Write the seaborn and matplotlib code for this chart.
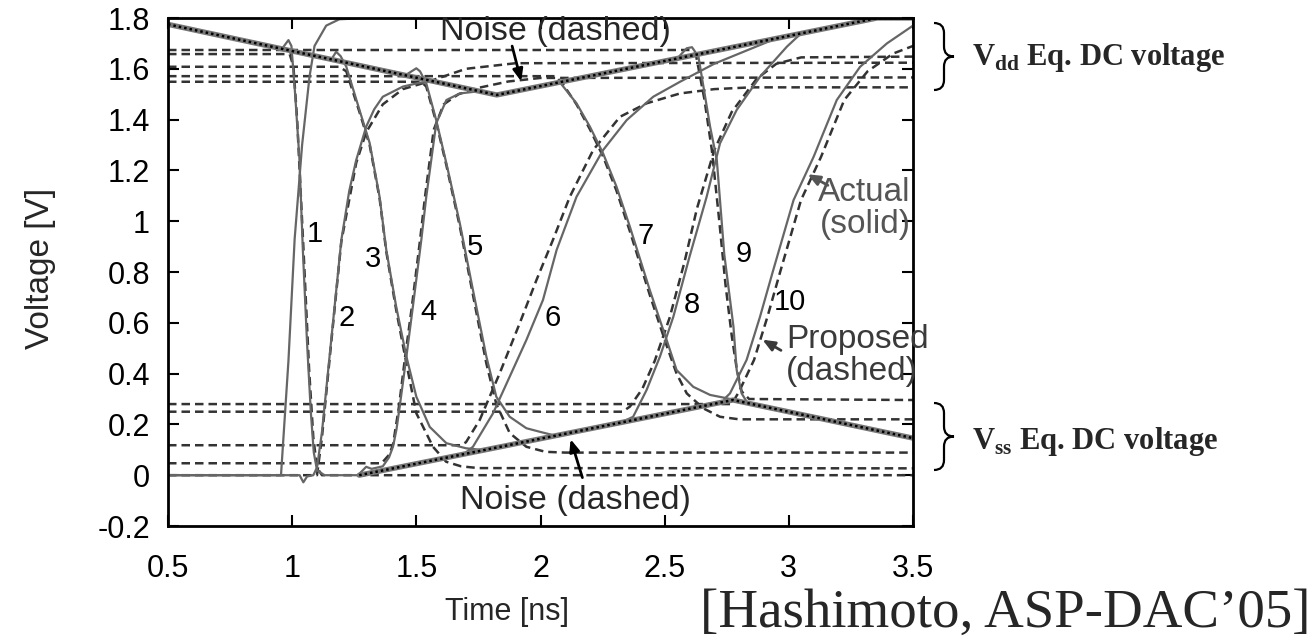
import matplotlib
matplotlib.use("Agg")
import matplotlib.pyplot as plt
import pandas as pd
import seaborn as sns
from matplotlib.path import Path
from matplotlib.patches import PathPatch

# ---------------- waveform data (time [ns], voltage [V]) ----------------
vdd_noise = [(0.5, 1.775), (1.824, 1.497), (3.356, 1.80), (3.5, 1.80)]
vss_noise = [(1.27, 0.0), (2.775, 0.296), (3.5, 0.146)]

stage_input = [(0.5, 0.0), (0.955, 0.0), (0.985, 0.45), (1.01, 0.93), (1.04, 1.30),
               (1.07, 1.57), (1.09, 1.69), (1.137, 1.77), (1.19, 1.795), (1.3, 1.80), (3.5, 1.80)]

out1_actual = [(0.5, 1.775), (0.96, 1.68), (0.985, 1.713), (0.997, 1.69), (1.012, 1.50),
               (1.029, 1.25), (1.043, 0.887), (1.06, 0.52), (1.075, 0.25), (1.087, 0.09),
               (1.10, 0.02), (1.13, 0.0), (1.28, 0.0)]
out1_proposed = [(0.5, 1.658), (0.99, 1.658), (1.005, 1.61), (1.02, 1.40), (1.045, 0.90),
                 (1.068, 0.42), (1.085, 0.15), (1.10, 0.03), (1.12, 0.0), (3.5, 0.0)]

out2_actual = [(0.5, 0.0), (1.03, 0.0), (1.045, -0.028), (1.06, -0.005), (1.085, 0.0),
               (1.10, 0.03), (1.12, 0.17), (1.157, 0.53), (1.198, 0.926), (1.23, 1.12),
               (1.258, 1.241), (1.298, 1.372), (1.33, 1.44), (1.365, 1.49), (1.446, 1.53),
               (1.513, 1.545), (1.56, 1.55)]
out2_proposed = [(0.5, 0.0), (1.10, 0.0), (1.12, 0.15), (1.157, 0.52), (1.198, 0.92),
                 (1.258, 1.23), (1.298, 1.35), (1.365, 1.46), (1.446, 1.52), (1.55, 1.55),
                 (1.70, 1.60), (1.90, 1.622), (3.5, 1.624)]

out3_actual = [(1.10, 1.645), (1.16, 1.64), (1.177, 1.667), (1.195, 1.65), (1.218, 1.608),
               (1.271, 1.438), (1.312, 1.308), (1.352, 1.096), (1.379, 0.887), (1.419, 0.663),
               (1.46, 0.467), (1.5, 0.309), (1.554, 0.19), (1.621, 0.126), (1.70, 0.106),
               (1.76, 0.10)]
out3_proposed = [(0.5, 1.608), (1.19, 1.608), (1.218, 1.59), (1.271, 1.43),
                 (1.312, 1.30), (1.352, 1.09), (1.379, 0.88), (1.419, 0.65), (1.46, 0.44),
                 (1.5, 0.244), (1.567, 0.112), (1.62, 0.053), (1.68, 0.035), (1.75, 0.028),
                 (3.5, 0.027)]

out4_actual = [(1.27, 0.005), (1.298, 0.033), (1.32, 0.025), (1.365, 0.035), (1.39, 0.07),
               (1.406, 0.112), (1.42, 0.18), (1.433, 0.27), (1.46, 0.467), (1.486, 0.663),
               (1.52, 0.926), (1.54, 1.096), (1.58, 1.385), (1.621, 1.477), (1.675, 1.503),
               (1.755, 1.512), (1.83, 1.50)]
out4_proposed = [(0.5, 0.047), (1.36, 0.047), (1.39, 0.08), (1.406, 0.12), (1.43, 0.27),
                 (1.455, 0.467), (1.482, 0.663), (1.515, 0.926), (1.535, 1.096), (1.57, 1.36),
                 (1.61, 1.46), (1.67, 1.50), (1.75, 1.525), (1.87, 1.55), (2.0, 1.564),
                 (3.5, 1.566)]

out5_actual = [(1.45, 1.571), (1.50, 1.602), (1.515, 1.59), (1.54, 1.543), (1.58, 1.398),
               (1.621, 1.228), (1.675, 0.992), (1.728, 0.729), (1.782, 0.467), (1.822, 0.309),
               (1.876, 0.23), (1.943, 0.185), (1.997, 0.171), (2.05, 0.158)]
out5_proposed = [(0.5, 1.549), (1.52, 1.549), (1.54, 1.53), (1.58, 1.39), (1.621, 1.22),
                 (1.675, 0.98), (1.728, 0.71), (1.782, 0.44), (1.822, 0.28), (1.876, 0.166),
                 (1.943, 0.112), (2.02, 0.092), (2.1, 0.089), (3.5, 0.089)]

out6_actual = [(1.70, 0.09), (1.728, 0.112), (1.809, 0.244), (1.876, 0.388), (1.943, 0.532),
               (2.01, 0.69), (2.065, 0.887), (2.145, 1.096), (2.252, 1.28), (2.347, 1.398),
               (2.454, 1.49), (2.562, 1.549), (2.70, 1.62), (2.85, 1.68), (2.95, 1.72)]
out6_proposed = [(0.5, 0.118), (1.68, 0.118), (1.70, 0.13), (1.755, 0.217), (1.836, 0.402),
                 (1.917, 0.60), (1.984, 0.769), (2.05, 0.926), (2.118, 1.096), (2.212, 1.28),
                 (2.32, 1.411), (2.427, 1.464), (2.562, 1.503), (2.70, 1.52), (2.85, 1.527),
                 (3.5, 1.527)]

out7_actual = [(2.03, 1.538), (2.078, 1.547), (2.145, 1.464), (2.199, 1.372), (2.252, 1.267),
               (2.306, 1.136), (2.36, 0.978), (2.44, 0.729), (2.508, 0.532), (2.548, 0.414),
               (2.615, 0.348), (2.683, 0.316), (2.75, 0.303), (2.78, 0.296)]
out7_proposed = [(0.5, 1.571), (2.06, 1.571), (2.09, 1.54), (2.145, 1.46), (2.20, 1.36),
                 (2.252, 1.255), (2.306, 1.12), (2.36, 0.96), (2.44, 0.71), (2.508, 0.51),
                 (2.548, 0.40), (2.589, 0.322), (2.656, 0.263), (2.723, 0.23), (2.80, 0.22),
                 (3.5, 0.22)]

out8_actual = [(2.33, 0.21), (2.373, 0.23), (2.427, 0.335), (2.481, 0.467), (2.535, 0.624),
               (2.60, 0.86), (2.669, 1.096), (2.723, 1.307), (2.79, 1.438), (2.884, 1.569),
               (2.992, 1.687), (3.05, 1.74)]
out8_proposed = [(0.5, 0.25), (2.33, 0.25), (2.36, 0.27), (2.41, 0.34), (2.46, 0.45),
                 (2.52, 0.62), (2.58, 0.84), (2.63, 1.05), (2.70, 1.28), (2.77, 1.43),
                 (2.87, 1.56), (2.95, 1.62), (3.05, 1.645), (3.5, 1.648)]

out9_actual = [(2.55, 1.64), (2.589, 1.681), (2.61, 1.685), (2.636, 1.648), (2.683, 1.372),
               (2.71, 1.241), (2.74, 0.87), (2.777, 0.585), (2.79, 0.414), (2.81, 0.322),
               (2.83, 0.29)]
out9_proposed = [(0.5, 1.674), (2.60, 1.674), (2.625, 1.66), (2.66, 1.48), (2.69, 1.28),
                 (2.72, 1.0), (2.745, 0.75), (2.77, 0.55), (2.79, 0.42), (2.81, 0.33),
                 (2.84, 0.30), (3.5, 0.296)]

out10_actual = [(2.74, 0.30), (2.763, 0.322), (2.83, 0.454), (2.884, 0.624), (2.935, 0.80),
                (3.019, 1.083), (3.1, 1.254), (3.193, 1.477), (3.287, 1.608), (3.395, 1.70),
                (3.5, 1.77)]
out10_proposed = [(0.5, 0.28), (2.77, 0.28), (2.80, 0.33), (2.86, 0.454), (2.914, 0.624),
                  (2.965, 0.80), (3.049, 1.083), (3.13, 1.254), (3.223, 1.477), (3.317, 1.59),
                  (3.42, 1.66), (3.5, 1.69)]

stage_labels = ["1", "2", "3", "4", "5", "6", "7", "8", "9", "10"]
label_pos = [(1.09, 0.95), (1.22, 0.62), (1.325, 0.85), (1.547, 0.644), (1.735, 0.90),
             (2.05, 0.62), (2.425, 0.94), (2.61, 0.67), (2.82, 0.87), (3.005, 0.68)]

# ---------------- styling ----------------
sns.set_theme(style="ticks")
plt.rcParams["font.family"] = ["Liberation Sans", "DejaVu Sans"]
plt.rcParams["mathtext.fontset"] = "custom"
plt.rcParams["mathtext.rm"] = "Liberation Serif:bold"
plt.rcParams["mathtext.bf"] = "Liberation Serif:bold"

SOLID = "#666666"
DASH = "#333333"
DASH_STYLE = (0, (3.4, 2.0))

W, H = 1314, 644
fig = plt.figure(figsize=(W / 100, H / 100), dpi=100)
ax = fig.add_axes([168 / W, 1 - 526 / H, (913 - 168) / W, (526 - 18) / H])


def trace(points, **kw):
    df = pd.DataFrame(points, columns=["t", "v"])
    sns.lineplot(data=df, x="t", y="v", sort=False, estimator=None, ax=ax, **kw)


actual = [stage_input, out1_actual, out2_actual, out3_actual, out4_actual, out5_actual,
          out6_actual, out7_actual, out8_actual, out9_actual, out10_actual]
proposed = [out1_proposed, out2_proposed, out3_proposed, out4_proposed, out5_proposed,
            out6_proposed, out7_proposed, out8_proposed, out9_proposed, out10_proposed]

for pts in proposed:
    trace(pts, color=DASH, lw=1.8, linestyle=DASH_STYLE)
for pts in actual:
    trace(pts, color=SOLID, lw=1.6)

# supply noise: actual (thick grey) with the model overlaid as black dots
for pts in (vdd_noise, vss_noise):
    trace(pts, color="#777777", lw=3.8)
    trace(pts, color="black", lw=1.8, linestyle=(0, (1.0, 1.2)))

for lab, (tx, ty) in zip(stage_labels, label_pos):
    ax.text(tx, ty, lab, fontsize=21, ha="center", va="center", color="black")

ax.set_xlim(0.5, 3.5)
ax.set_ylim(-0.2, 1.8)
ax.set_xticks([0.5, 1, 1.5, 2, 2.5, 3, 3.5])
ax.set_xticklabels(["0.5", "1", "1.5", "2", "2.5", "3", "3.5"])
ax.set_yticks([-0.2, 0, 0.2, 0.4, 0.6, 0.8, 1, 1.2, 1.4, 1.6, 1.8])
ax.set_yticklabels(["-0.2", "0", "0.2", "0.4", "0.6", "0.8", "1", "1.2", "1.4", "1.6", "1.8"])
ax.tick_params(direction="in", top=True, right=True, length=8, width=1.5,
               labelsize=22, colors="black")
ax.tick_params(axis="x", pad=20)
ax.tick_params(axis="y", pad=13)
for sp in ax.spines.values():
    sp.set_linewidth(2.0)
    sp.set_color("black")
    sp.set_visible(True)
ax.set_xlabel("Time [ns]", fontsize=22)
ax.set_ylabel("Voltage [V]", fontsize=24)
ax.xaxis.set_label_coords((507 - 168) / 745, -(597 - 526) / 508)
ax.yaxis.set_label_coords(-(168 - 56) / 745, (526 - 268) / 508)

# annotations
ARROW = "-|>,head_length=0.6,head_width=0.25"
ax.text(2.06, 1.745, "Noise (dashed)", fontsize=24.5, ha="center", va="center")
ax.annotate("", xy=(1.925, 1.54), xytext=(1.883, 1.70),
            arrowprops=dict(arrowstyle=ARROW, color="black", lw=2))
ax.text(2.14, -0.098, "Noise (dashed)", fontsize=24.5, ha="center", va="center")
ax.annotate("", xy=(2.118, 0.152), xytext=(2.172, -0.02),
            arrowprops=dict(arrowstyle=ARROW, color="black", lw=2))
ax.text(3.49, 1.05, "Actual\n(solid)", fontsize=24, ha="right", va="center",
        color="#555555", linespacing=1.05)
ax.annotate("", xy=(3.066, 1.19), xytext=(3.167, 1.136),
            arrowprops=dict(arrowstyle=ARROW, color="#555555", lw=2))
ax.text(2.99, 0.47, "Proposed\n(dashed)", fontsize=24, ha="left", va="center",
        color="#3a3a3a", linespacing=1.05, clip_on=False)
ax.annotate("", xy=(2.884, 0.539), xytext=(2.978, 0.486),
            arrowprops=dict(arrowstyle=ARROW, color="#3a3a3a", lw=2))


def brace(x0, x1, ytop, ybot):
    """Right-pointing curly brace in figure pixel coordinates."""
    xm = (x0 + x1) / 2
    ym = (ytop + ybot) / 2
    r = (x1 - x0) / 2
    pts = [(x0, ytop), (xm, ytop), (xm, ytop + r), (xm, ym - r), (xm, ym), (x1, ym),
           (xm, ym), (xm, ym + r), (xm, ybot - r), (xm, ybot), (x0, ybot)]
    codes = [Path.MOVETO, Path.CURVE3, Path.CURVE3, Path.LINETO, Path.CURVE3, Path.CURVE3,
             Path.CURVE3, Path.CURVE3, Path.LINETO, Path.CURVE3, Path.CURVE3]
    verts = [(x / W, 1 - y / H) for x, y in pts]
    fig.add_artist(PathPatch(Path(verts, codes), fill=False, lw=1.6, color="black",
                             transform=fig.transFigure))


brace(934, 954, 23, 90)
brace(934, 954, 403, 470)
fig.text(972 / W, 1 - 58 / H, r"$\mathrm{V}_{\mathrm{dd}}$ Eq. DC voltage", fontsize=22,
         family="Liberation Serif", weight="bold", ha="left", va="center")
fig.text(972 / W, 1 - 441 / H, r"$\mathrm{V}_{\mathrm{ss}}$ Eq. DC voltage", fontsize=22,
         family="Liberation Serif", weight="bold", ha="left", va="center")
fig.text(700 / W, 1 - 614 / H, "[Hashimoto, ASP-DAC\u201905]", fontsize=39.5,
         family="Liberation Serif", ha="left", va="center")

fig.savefig("out.png", dpi=100)
